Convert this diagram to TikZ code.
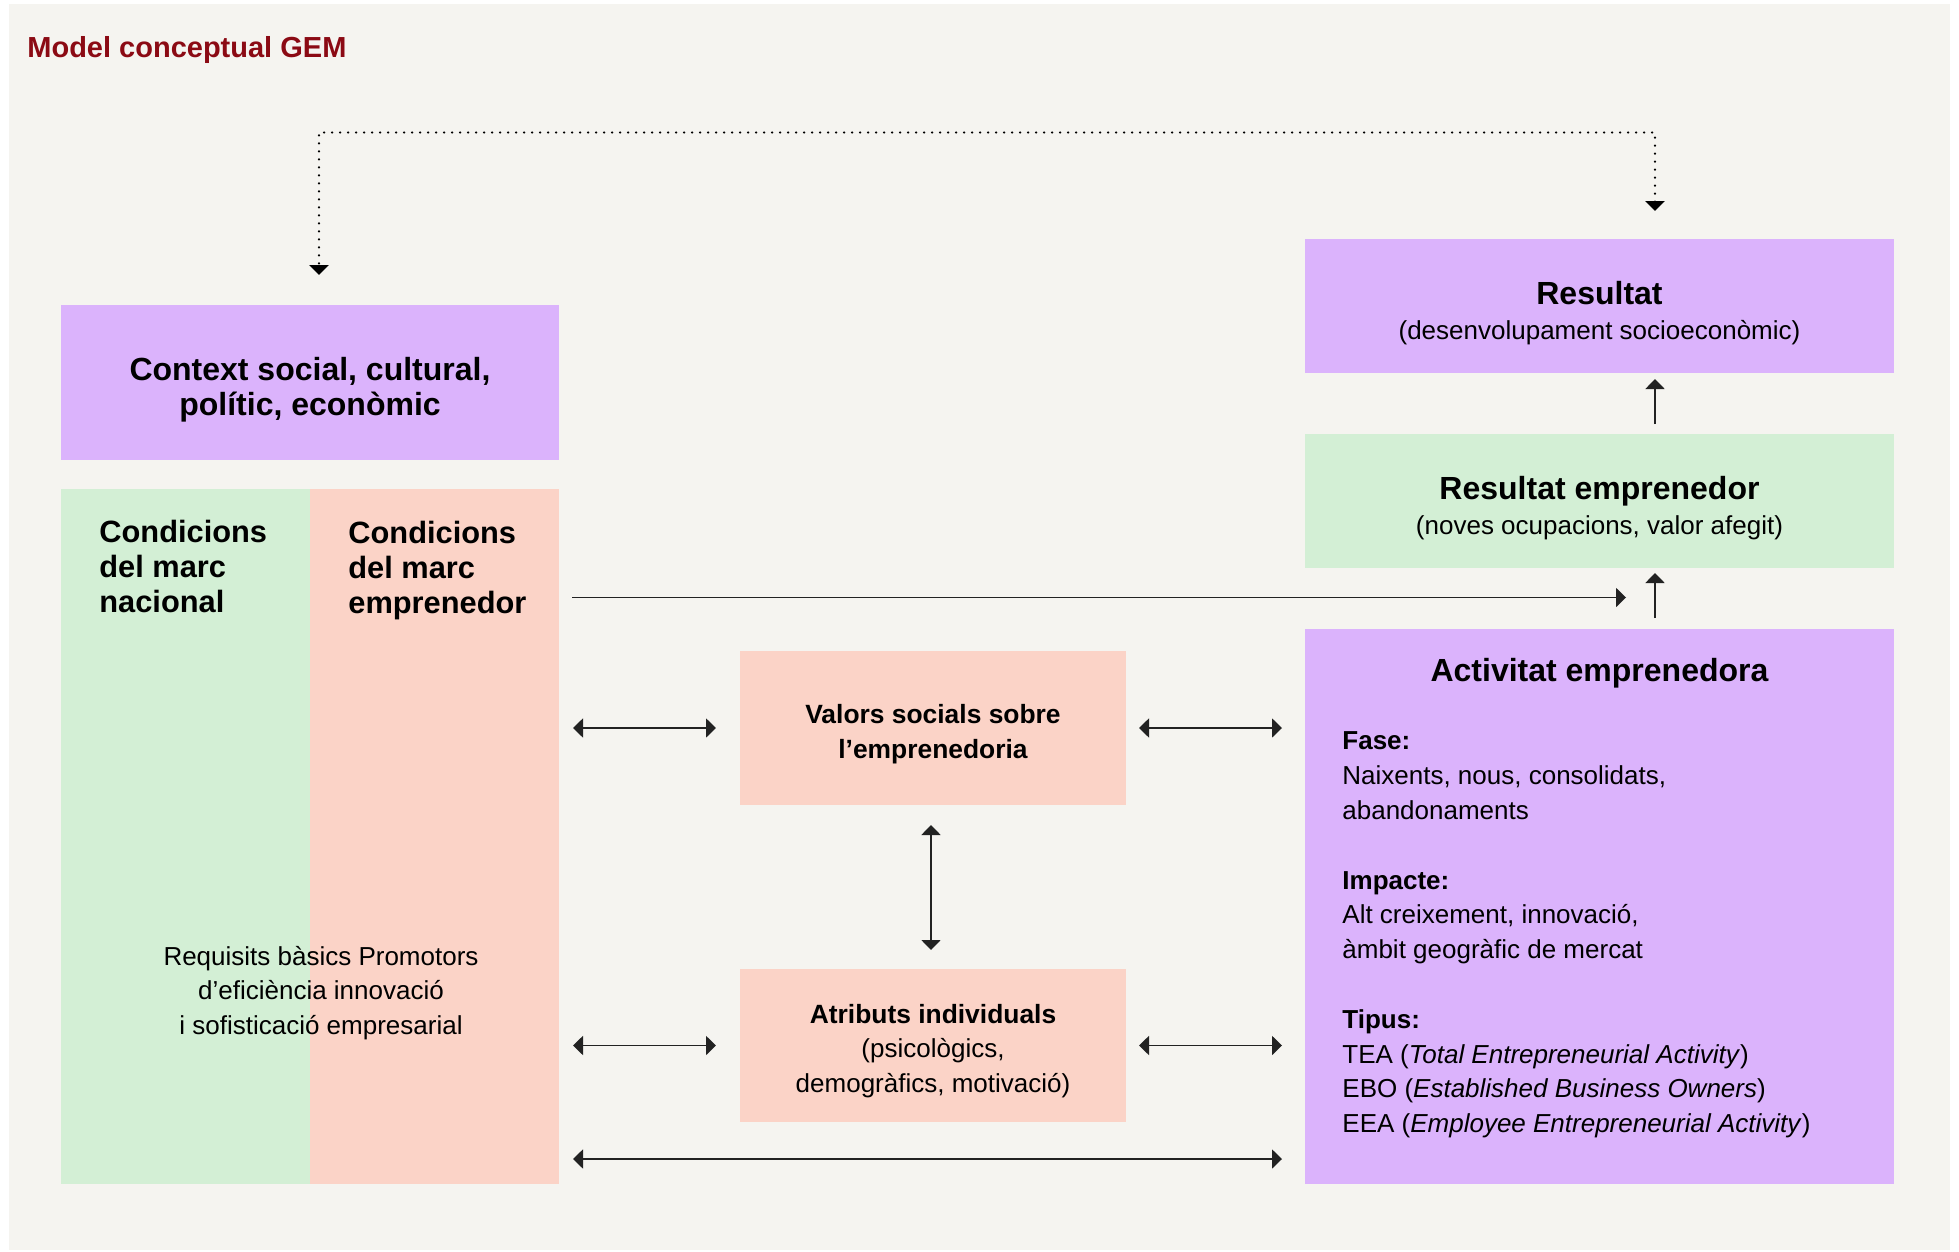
\documentclass[tikz,border=0pt]{standalone}
\usepackage{fontspec}
\setmainfont{Liberation Sans}
\usetikzlibrary{arrows.meta,calc}
\definecolor{bgc}{HTML}{F5F4F0}
\definecolor{purp}{HTML}{DBB3FC}
\definecolor{grn}{HTML}{D3EFD5}
\definecolor{salm}{HTML}{FBD3C7}
\definecolor{titred}{HTML}{8B0A14}
\definecolor{arr}{HTML}{222222}
\tikzset{
  >={Triangle[length=5pt,width=9.5pt]},
  box/.style={inner sep=0pt, outer sep=0pt, anchor=north west},
  normtxt/.style={font=\fontsize{13}{17.4}\selectfont, align=center, inner sep=0pt},
  headtxt/.style={font=\bfseries\fontsize{16}{17.4}\selectfont, align=center, inner sep=0pt},
  smallhead/.style={font=\bfseries\fontsize{13.2}{17.4}\selectfont},
  condtxt/.style={anchor=north west, inner sep=0pt, align=left, font=\bfseries\fontsize{15.4}{17.5}\selectfont},
  conn/.style={draw=arr, line width=0.9pt},
  dotline/.style={draw=black, line width=1.2pt, line cap=round, dash pattern=on 0pt off 4pt}
}
\begin{document}
\begin{tikzpicture}[x=0.5pt,y=-0.5pt]
\useasboundingbox (0,0) rectangle (1959,1252);
\fill[white] (0,0) rectangle (1959,1252);
\fill[bgc] (9,4) rectangle (1950,1250);

\node[anchor=west, inner sep=0pt, text=titred, font=\bfseries\fontsize{14.5}{16}\selectfont] (title) at (27,50) {Model conceptual GEM};

% left column
\node[box, fill=purp, minimum width=249pt, minimum height=77.5pt] (ctx) at (61,305) {};
\node[headtxt] (ctxt) at ($(ctx.center)+(0,7)$) {Context social, cultural,\\ polític, econòmic};

\node[box, fill=grn, minimum width=124.5pt, minimum height=347.5pt] (nac) at (61,489) {};
\node[box, fill=salm, minimum width=124.5pt, minimum height=347.5pt] (emp) at (310,489) {};
\node[condtxt] (nact) at (99,520) {Condicions\\ del marc\\ nacional};
\node[condtxt] (empt) at (348,521) {Condicions\\ del marc\\ emprenedor};
\node[normtxt] (req) at (321,993) {Requisits bàsics Promotors\\ d’eficiència innovació\\ i sofisticació empresarial};

% middle
\node[box, fill=salm, minimum width=193pt, minimum height=77pt] (val) at (740,651) {};
\node[normtxt, smallhead] (valt) at ($(val.center)+(0,6)$) {Valors socials sobre\\ l’emprenedoria};
\node[box, fill=salm, minimum width=193pt, minimum height=76.5pt] (atr) at (740,969) {};
\node[normtxt] (atrt) at ($(atr.center)+(0,5.5)$) {{\bfseries\fontsize{13.2}{17.4}\selectfont Atributs individuals}\\ (psicològics,\\ demogràfics, motivació)};

% right
\node[box, fill=purp, minimum width=294.5pt, minimum height=67pt] (res) at (1305,239) {};
\node[normtxt] (rest) at ($(res.center)+(0,7)$) {{\bfseries\fontsize{16}{17.4}\selectfont Resultat}\\ (desenvolupament socioeconòmic)};
\node[box, fill=grn, minimum width=294.5pt, minimum height=67pt] (remp) at (1305,434) {};
\node[normtxt] (rempt) at ($(remp.center)+(0,7)$) {{\bfseries\fontsize{16}{17.4}\selectfont Resultat emprenedor}\\ (noves ocupacions, valor afegit)};
\node[box, fill=purp, minimum width=294.5pt, minimum height=277.5pt] (act) at (1305,629) {};
\node[headtxt] (actt) at (1599.5,673) {Activitat emprenedora};
\node[anchor=west, inner sep=0pt, align=left, font=\fontsize{13}{17.4}\selectfont] (actb) at (1342,935) {\textbf{Fase:}\\ Naixents, nous, consolidats,\\ abandonaments\\[17.4pt] \textbf{Impacte:}\\ Alt creixement, innovació,\\ àmbit geogràfic de mercat\\[17.4pt] \textbf{Tipus:}\\ TEA (\textit{Total Entrepreneurial Activity})\\ EBO (\textit{Established Business Owners})\\ EEA (\textit{Employee Entrepreneurial Activity})};

% connectors
\draw[dotline, <->]
  ($(res.north west)+(350,-28)$) -- ++(0,-78.5) -| ($(ctx.north west)+(258,-30)$);
\draw[conn, ->] ($(emp.north east)+(13,108.5)$) -- ($(remp.south west)+(321,29.5)$);
\draw[conn, ->] ($(act.north west)+(350,-11)$) -- ($(remp.south west)+(350,5)$);
\draw[conn, ->] ($(remp.north west)+(350,-10)$) -- ($(res.south west)+(350,6)$);
\draw[conn, <->] ($(emp.east |- val.west)+(14,0)$) -- ($(val.west)+(-24,0)$);
\draw[conn, <->] ($(val.east)+(13,0)$) -- ($(act.west |- val.east)+(-23,0)$);
\draw[conn, <->] ($(emp.east |- atr.west)+(14,0)$) -- ($(atr.west)+(-24,0)$);
\draw[conn, <->] ($(atr.east)+(13,0)$) -- ($(act.west |- atr.east)+(-23,0)$);
\draw[conn, <->] ($(emp.south east)+(14,-25)$) -- ($(act.south west)+(-23,-25)$);
\draw[conn, <->] ($(val.south)+(-2,20)$) -- ($(atr.north)+(-2,-19)$);
\end{tikzpicture}
\end{document}
